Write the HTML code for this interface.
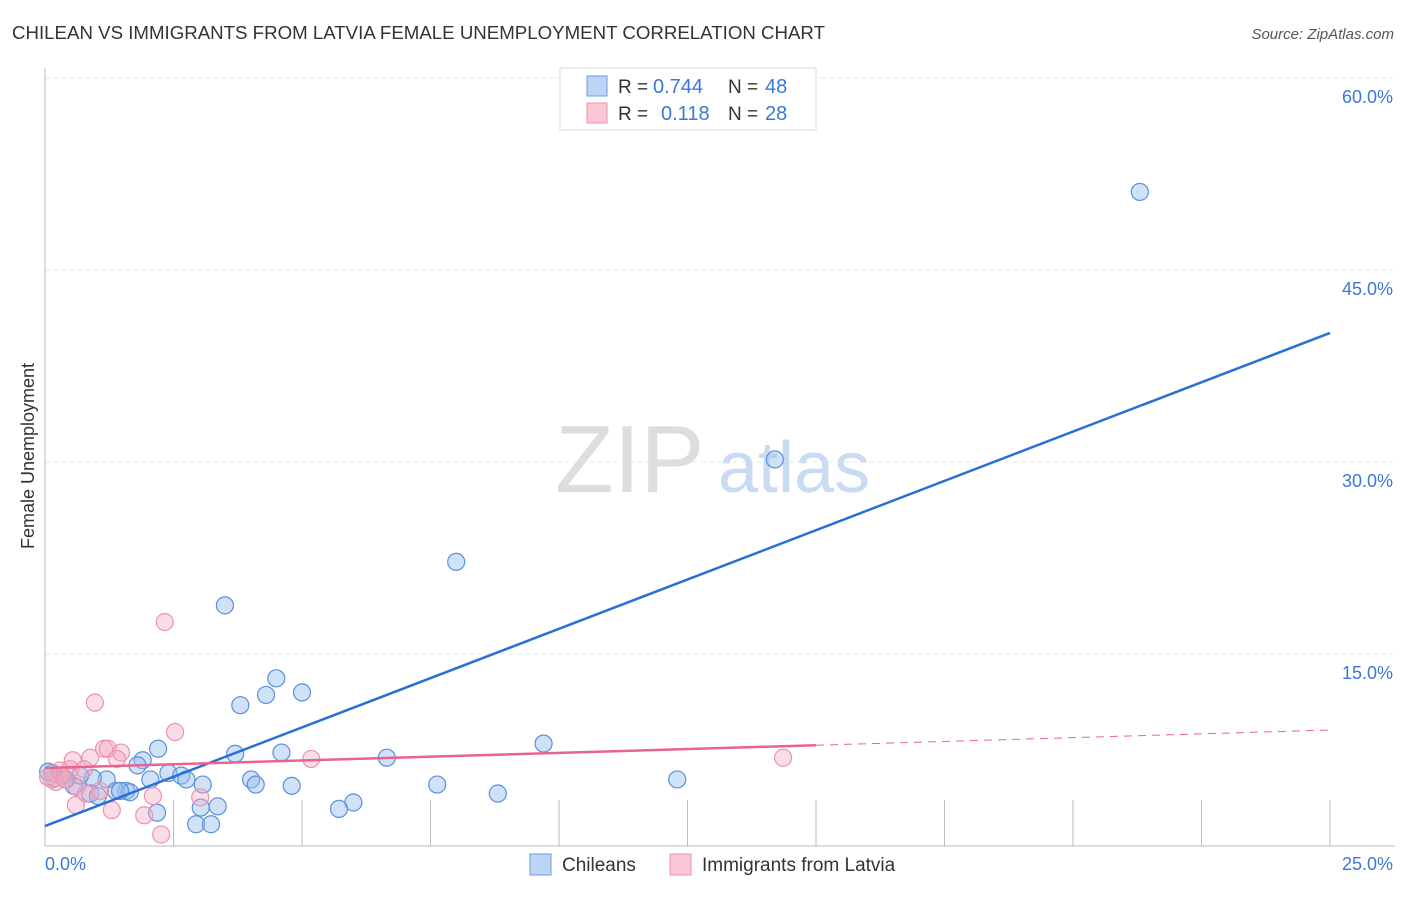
<!DOCTYPE html>
<html><head><meta charset="utf-8"><style>
body{margin:0;background:#fff;font-family:"Liberation Sans",sans-serif;}
svg text{font-family:"Liberation Sans",sans-serif;}
</style></head><body>
<svg id="c" width="1406" height="892">
<text x="12" y="39" font-size="18" fill="#333" textLength="813" lengthAdjust="spacingAndGlyphs">CHILEAN VS IMMIGRANTS FROM LATVIA FEMALE UNEMPLOYMENT CORRELATION CHART</text>
<text x="1394" y="39" font-size="15" fill="#555" font-style="italic" text-anchor="end">Source: ZipAtlas.com</text>
<text x="34" y="456" font-size="18" fill="#333" text-anchor="middle" transform="rotate(-90 34 456)">Female Unemployment</text>
<text x="555" y="492" font-size="96" fill="#ddd" font-family="Liberation Serif">ZIP</text>
<text x="718" y="492" font-size="72" fill="#c9dbf3">atlas</text>
<g id="grid"></g><g id="pts"></g><g id="lines"></g>
<g>
<rect x="560" y="68" width="256" height="62" fill="#fff" stroke="#ddd"/>
<rect x="587" y="76" width="20" height="20" fill="#bcd4f5" stroke="#6d9be0"/>
<rect x="587" y="103" width="20" height="20" fill="#f9c7d6" stroke="#eb93ae"/>
<text x="618" y="93" font-size="19" fill="#333">R =</text>
<text x="653" y="93" font-size="20" fill="#3a78d8">0.744</text>
<text x="728" y="93" font-size="19" fill="#333">N =</text>
<text x="765" y="93" font-size="20" fill="#3a78d8">48</text>
<text x="618" y="120" font-size="19" fill="#333">R =</text>
<text x="661" y="120" font-size="20" fill="#3a78d8">0.118</text>
<text x="728" y="120" font-size="19" fill="#333">N =</text>
<text x="765" y="120" font-size="20" fill="#3a78d8">28</text>
</g>
<g>
<rect x="530" y="854" width="21" height="21" fill="#bcd4f5" stroke="#6d9be0"/>
<text x="562" y="871" font-size="19" fill="#333">Chileans</text>
<rect x="670" y="854" width="21" height="21" fill="#f9c7d6" stroke="#eb93ae"/>
<text x="702" y="871" font-size="19" fill="#333">Immigrants from Latvia</text>
</g>
</svg>
<script>
const yTicks=[15,30,45,60];
const yTickLabels=["15.0%","30.0%","45.0%","60.0%"];
const xTickLabels=["0.0%","25.0%"];
const blueX=[21.3,14.2,8.0,3.5,9.7,4.5,5.0,4.3,3.8,2.2,3.7,4.6,6.65,1.9,1.8,2.4,2.65,2.75,2.05,1.2,0.93,0.33,0.19,0.14,0.56,1.58,1.38,1.65,0.88,1.03,3.07,4.01,4.1,4.8,7.63,12.3,8.81,6.0,5.72,3.36,3.03,2.18,2.94,3.23,0.06,0.41,0.68,1.46];
const blueY=[51.1,30.2,22.2,18.8,8.0,13.1,12.0,11.8,11.0,7.6,7.2,7.3,6.9,6.7,6.3,5.7,5.5,5.2,5.2,5.2,5.3,5.5,5.3,5.7,4.7,4.3,4.3,4.2,4.1,3.9,4.8,5.2,4.8,4.7,4.8,5.2,4.1,3.4,2.9,3.1,3.0,2.6,1.7,1.7,5.8,5.2,5.5,4.3];
const pinkX=[2.33,0.97,2.53,1.15,1.22,1.48,1.4,0.88,0.54,0.49,0.31,0.21,0.14,0.06,0.62,0.8,2.1,5.18,14.36,3.02,0.6,1.3,1.93,2.26,0.29,0.39,0.76,1.07];
const pinkY=[17.5,11.2,8.9,7.6,7.6,7.3,6.8,6.9,6.7,6.0,5.5,5.0,5.2,5.4,4.6,4.1,3.9,6.8,6.9,3.8,3.2,2.8,2.4,0.9,5.9,5.2,6.0,4.3];
const blueLine=[1.56,40.08];
const pinkLine=[6.09,9.06];
const NS="http://www.w3.org/2000/svg";
const X=v=>45+v/25*1285, Y=v=>846-v/15*192;
function mk(t,a,p){const e=document.createElementNS(NS,t);for(const k in a)e.setAttribute(k,a[k]);p.appendChild(e);return e;}
const g=document.getElementById('grid');
yTicks.forEach((t,i)=>{
 const l=mk('line',{x1:45,x2:1395,y1:Y(t),y2:Y(t),stroke:'#e4e4e4','stroke-dasharray':'4,4'},g);
 
 
 const tx=mk('text',{x:1393,y:Y(t)+25,'font-size':18,fill:'#3a78d8','text-anchor':'end'},g);tx.textContent=yTickLabels[i];
 
 
});
mk('line',{x1:45,x2:45,y1:68,y2:846,stroke:'#bbb'},g);
mk('line',{x1:45,x2:1395,y1:846,y2:846,stroke:'#bbb'},g);
for(let i=1;i<=10;i++){const t=mk('line',{x1:X(i*2.5),x2:X(i*2.5),y1:800,y2:846,stroke:'#bbb'},g);
 
 }
[[0,'start'],[25,'end']].forEach((d,i)=>{const t=mk('text',{x:i?1393:45,y:870,'font-size':18,fill:'#3a78d8','text-anchor':d[1]},g);t.textContent=xTickLabels[i];
 
 });
const p=document.getElementById('pts');
blueX.forEach((x,i)=>{const c=mk('circle',{cx:X(x),cy:Y(blueY[i]),r:8.5,fill:'rgba(150,190,240,0.45)',stroke:'#5b8fdc','stroke-width':1.2},p);
 
 });
pinkX.forEach((x,i)=>{const c=mk('circle',{cx:X(x),cy:Y(pinkY[i]),r:8.5,fill:'rgba(246,170,195,0.4)',stroke:'#eb93ae','stroke-width':1.2},p);
 
 });
const L=document.getElementById('lines');
const b=mk('line',{x1:X(0),y1:Y(blueLine[0]),x2:X(25),y2:Y(blueLine[1]),stroke:'#2a6fd6','stroke-width':2.5},L);


const pv=x=>pinkLine[0]+(pinkLine[1]-pinkLine[0])*x/25;
const pl=mk('line',{x1:X(0),y1:Y(pv(0)),x2:X(15),y2:Y(pv(15)),stroke:'#e8638f','stroke-width':2.5},L);


const pd=mk('line',{x1:X(15),y1:Y(pv(15)),x2:X(25),y2:Y(pv(25)),stroke:'#e8638f','stroke-width':1,'stroke-dasharray':'8,6'},L);


</script>
</body></html>
